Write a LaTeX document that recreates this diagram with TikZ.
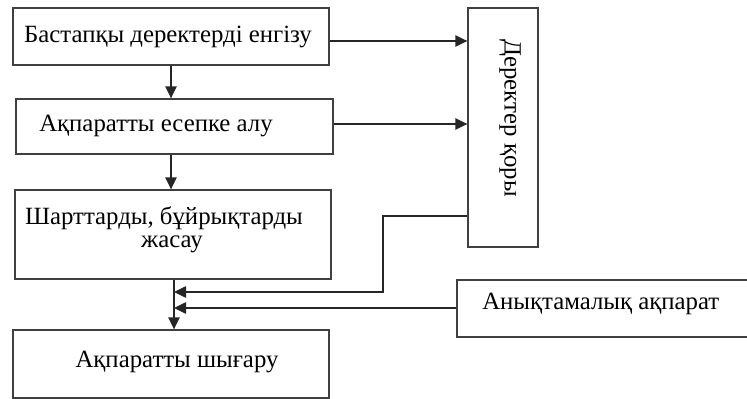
\documentclass[tikz,border=0pt]{standalone}
\usepackage{fontspec}
\setmainfont{Liberation Serif}
\usetikzlibrary{arrows.meta}
\begin{document}
\begin{tikzpicture}[x=0.75pt,y=-0.75pt,
  box/.style={draw=black!75,line width=1pt,rectangle,inner sep=0pt},
  txt/.style={font=\fontsize{18.6}{22}\selectfont,inner sep=0pt},
  con/.style={draw=black!85,line width=1.1pt},
  arr/.style={con,-{Triangle[length=9pt,width=8.5pt]}}]
\useasboundingbox (0,0) rectangle (747,399);
% boxes
\node[box,minimum width={316*0.75pt},minimum height={57*0.75pt}] (b1) at (171,36.5) {};
\node[box,minimum width={317*0.75pt},minimum height={55*0.75pt}] (b2) at (174.5,126.5) {};
\node[box,minimum width={316*0.75pt},minimum height={89*0.75pt}] (b3) at (173,234.5) {};
\node[box,minimum width={316*0.75pt},minimum height={68*0.75pt}] (b4) at (171,364) {};
\node[box,minimum width={70*0.75pt},minimum height={239*0.75pt}] (db) at (503,127.5) {};
\node[box,minimum width={320*0.75pt},minimum height={57*0.75pt}] (ref) at (617,308.5) {};
% texts
\node[txt] (t1) at (168,37) {Бастапқы деректерді енгізу};
\node[txt,anchor=west] (t2) at (39,126) {Ақпаратты есепке алу};
\node[txt] (t3a) at (164,218) {Шарттарды, бұйрықтарды};
\node[txt] (t3b) at (172,244) {жасау};
\node[txt] (t4) at (177,362) {Ақпаратты шығару};
\node[txt,rotate=-90] (tdb) at (510,118) {Деректер қоры};
\node[txt,anchor=west] (tref) at (482,304) {Анықтамалық ақпарат};
% connectors
\draw[arr] (b1.south -| 171,0) -- (b2.north -| 171,0);
\draw[arr] (b2.south -| 171,0) -- (b3.north -| 171,0);
\draw[arr] (b3.south -| 174,0) -- (b4.north -| 174,0);
\draw[arr] ([yshift={-4.5*0.75pt}]b1.east) -- ([yshift={-4.5*0.75pt}]b1.east -| db.west);
\draw[arr] ([yshift={2.5*0.75pt}]b2.east) -- ([yshift={2.5*0.75pt}]b2.east -| db.west);
\coordinate (k1) at (383,216);
\coordinate (k2) at (383,292);
\coordinate (e1) at (174,292);
\coordinate (e2) at (174,308);
\draw[arr] (db.west |- k1) -- (k1) -- (k2) -- (e1);
\draw[arr] (ref.west |- e2) -- (e2);
\end{tikzpicture}
\end{document}
